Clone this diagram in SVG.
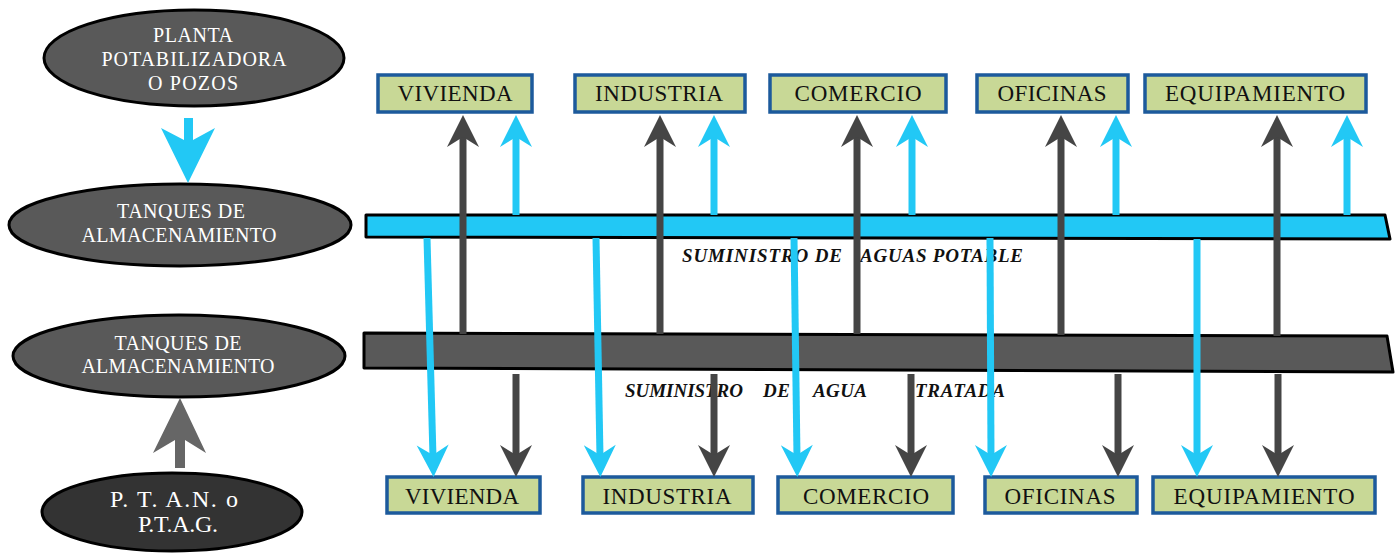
<svg xmlns="http://www.w3.org/2000/svg" width="1398" height="553" viewBox="0 0 1398 553">
<style>
.ell{fill:#595959;stroke:#000;stroke-width:3}
.ell2{fill:#333;stroke:#000;stroke-width:3}
.et{font-family:"Liberation Serif","DejaVu Serif",serif;font-size:20px;fill:#fff;text-anchor:middle}
.box{fill:#c8d896;stroke:#1c5a9c;stroke-width:3.5}
.bt{font-family:"Liberation Serif","DejaVu Serif",serif;font-size:23px;fill:#111;text-anchor:middle}
.mt{font-family:"Liberation Serif","DejaVu Serif",serif;font-size:19px;font-weight:bold;font-style:italic;fill:#111}
.ab{stroke:#22c8f5;stroke-width:7;fill:none;marker-end:url(#hb)}
.ad{stroke:#454545;stroke-width:7;fill:none;marker-end:url(#hd)}
</style>
<defs>
<marker id="hb" markerUnits="userSpaceOnUse" markerWidth="34" markerHeight="34" viewBox="0 -17 34 34" refX="12" refY="0" orient="auto" overflow="visible"><path d="M0,-16 L32,0 L0,16 L10,0 Z" fill="#22c8f5"/></marker>
<marker id="hd" markerUnits="userSpaceOnUse" markerWidth="34" markerHeight="34" viewBox="0 -17 34 34" refX="12" refY="0" orient="auto" overflow="visible"><path d="M0,-16 L32,0 L0,16 L10,0 Z" fill="#454545"/></marker>
</defs>
<rect width="1398" height="553" fill="#fff"/>

<g id="planta">
<ellipse class="ell" cx="194" cy="58" rx="150" ry="48"/>
<text class="et" x="193" y="42" textLength="80" lengthAdjust="spacing">PLANTA</text>
<text class="et" x="194" y="66" textLength="185" lengthAdjust="spacing">POTABILIZADORA</text>
<text class="et" x="193" y="90" textLength="90" lengthAdjust="spacing">O POZOS</text>
</g>
<g id="tanques1">
<ellipse class="ell" cx="180" cy="225" rx="171" ry="41"/>
<text class="et" x="181" y="218" textLength="128" lengthAdjust="spacing">TANQUES DE</text>
<text class="et" x="179" y="242" textLength="195" lengthAdjust="spacing">ALMACENAMIENTO</text>
</g>
<g id="tanques2">
<ellipse class="ell" cx="179" cy="356" rx="166" ry="41"/>
<text class="et" x="178" y="350" textLength="127" lengthAdjust="spacing">TANQUES DE</text>
<text class="et" x="178" y="373" textLength="193" lengthAdjust="spacing">ALMACENAMIENTO</text>
</g>
<g id="ptan">
<ellipse class="ell2" cx="172" cy="512" rx="130" ry="39"/>
<text class="et" x="174" y="507" style="font-size:24px" textLength="128" lengthAdjust="spacing">P. T. A.N.  o</text>
<text class="et" x="178" y="532" style="font-size:24px" textLength="80" lengthAdjust="spacing">P.T.A.G.</text>
</g>

<g id="bar-potable">
<polygon points="366,215 1385,215 1390,239 366,237" fill="#22c8f5" stroke="#000" stroke-width="3" stroke-linejoin="round"/>
</g>
<g id="bar-tratada">
<polygon points="364,333 1387,336 1393,372 364,368" fill="#595959" stroke="#000" stroke-width="3" stroke-linejoin="round"/>
</g>

<g id="labels">
<text class="mt" x="682" y="262" textLength="160" lengthAdjust="spacing">SUMINISTRO DE</text>
<text class="mt" x="860" y="262" textLength="163" lengthAdjust="spacing">AGUAS POTABLE</text>
<text class="mt" x="625" y="397" textLength="118" lengthAdjust="spacing">SUMINISTRO</text>
<text class="mt" x="763" y="397" textLength="27" lengthAdjust="spacing">DE</text>
<text class="mt" x="813" y="397" textLength="54" lengthAdjust="spacing">AGUA</text>
<text class="mt" x="915" y="397" textLength="90" lengthAdjust="spacing">TRATADA</text>
</g>

<g id="top-boxes">
<g id="t-vivienda"><rect class="box" x="378" y="75" width="154" height="37"/><text class="bt" x="455" y="101" textLength="115" lengthAdjust="spacing">VIVIENDA</text></g>
<g id="t-industria"><rect class="box" x="575" y="75" width="170" height="37"/><text class="bt" x="659" y="101" textLength="128" lengthAdjust="spacing">INDUSTRIA</text></g>
<g id="t-comercio"><rect class="box" x="770" y="75" width="176" height="37"/><text class="bt" x="858" y="101" textLength="127" lengthAdjust="spacing">COMERCIO</text></g>
<g id="t-oficinas"><rect class="box" x="977" y="75" width="151" height="37"/><text class="bt" x="1052" y="101" textLength="109" lengthAdjust="spacing">OFICINAS</text></g>
<g id="t-equipamiento"><rect class="box" x="1145" y="75" width="221" height="37"/><text class="bt" x="1255" y="101" textLength="180" lengthAdjust="spacing">EQUIPAMIENTO</text></g>
</g>
<g id="bottom-boxes">
<g id="b-vivienda"><rect class="box" x="387" y="477" width="153" height="36"/><text class="bt" x="462" y="504" textLength="114" lengthAdjust="spacing">VIVIENDA</text></g>
<g id="b-industria"><rect class="box" x="583" y="477" width="170" height="36"/><text class="bt" x="667" y="504" textLength="129" lengthAdjust="spacing">INDUSTRIA</text></g>
<g id="b-comercio"><rect class="box" x="778" y="477" width="175" height="36"/><text class="bt" x="866" y="504" textLength="126" lengthAdjust="spacing">COMERCIO</text></g>
<g id="b-oficinas"><rect class="box" x="985" y="477" width="152" height="36"/><text class="bt" x="1060" y="504" textLength="111" lengthAdjust="spacing">OFICINAS</text></g>
<g id="b-equipamiento"><rect class="box" x="1153" y="477" width="222" height="36"/><text class="bt" x="1264" y="504" textLength="181" lengthAdjust="spacing">EQUIPAMIENTO</text></g>
</g>

<g id="connectors">
<path d="M184,118 H193 V140 L215,128 L188,183 L161,128 L184,140 Z" fill="#22c8f5"/>
<path d="M175,468 V440 L153,453 L180,398 L206,453 L185,440 V468 Z" fill="#666"/>
<line class="ad" x1="463" y1="334" x2="463" y2="135"/>
<line class="ad" x1="660" y1="334" x2="660" y2="135"/>
<line class="ad" x1="857" y1="334" x2="857" y2="135"/>
<line class="ad" x1="1061" y1="335" x2="1061" y2="135"/>
<line class="ad" x1="1277" y1="336" x2="1277" y2="135"/>
<line class="ab" x1="516" y1="215" x2="516" y2="135"/>
<line class="ab" x1="714" y1="215" x2="714" y2="135"/>
<line class="ab" x1="912" y1="215" x2="912" y2="135"/>
<line class="ab" x1="1116" y1="215" x2="1116" y2="135"/>
<line class="ab" x1="1347" y1="215" x2="1347" y2="135"/>
<line class="ab" x1="427" y1="238" x2="433" y2="457"/>
<line class="ab" x1="596" y1="238" x2="600" y2="457"/>
<line class="ab" x1="794" y1="238" x2="797" y2="457"/>
<line class="ab" x1="990" y1="238" x2="991" y2="457"/>
<line class="ab" x1="1197" y1="239" x2="1197" y2="457"/>
<line class="ad" x1="516" y1="374" x2="516" y2="457"/>
<line class="ad" x1="714" y1="374" x2="714" y2="457"/>
<line class="ad" x1="911" y1="374" x2="911" y2="457"/>
<line class="ad" x1="1118" y1="374" x2="1118" y2="457"/>
<line class="ad" x1="1278" y1="374" x2="1278" y2="457"/>
</g>
</svg>
